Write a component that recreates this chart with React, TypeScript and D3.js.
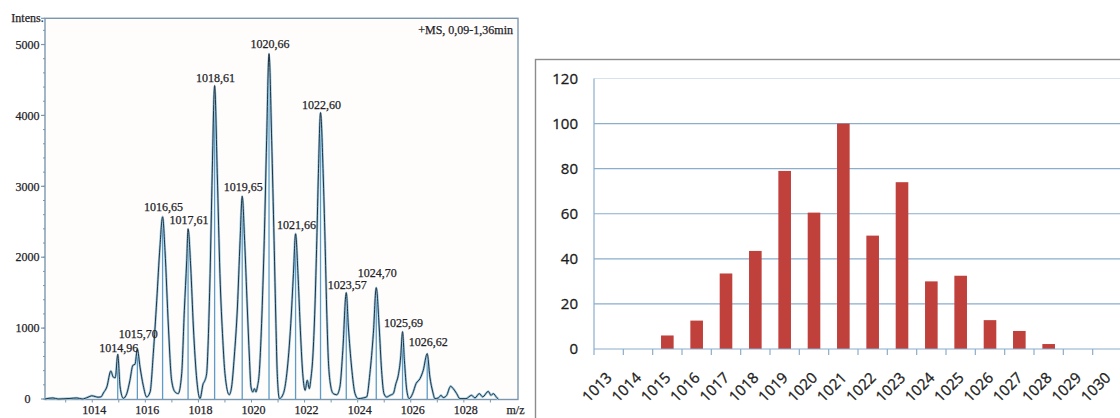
import React from 'react';
import * as d3 from 'd3';

// ---- Mass spectrum (left panel) ----
// Profile trace vertices: m/z and intensity
const profileMz = [
  1012.22, 1012.52, 1012.71, 1013.16, 1013.42, 1013.62, 1013.84, 1013.98, 1014.11, 1014.22,
  1014.33, 1014.42, 1014.55, 1014.70, 1014.79, 1014.87, 1014.96, 1015.05, 1015.17, 1015.30,
  1015.42, 1015.53, 1015.61, 1015.70, 1015.80, 1015.92, 1016.05, 1016.18, 1016.30, 1016.43,
  1016.55, 1016.65, 1016.74, 1016.87, 1016.99, 1017.12, 1017.24, 1017.37, 1017.47, 1017.56,
  1017.61, 1017.71, 1017.81, 1017.94, 1018.06, 1018.18, 1018.23, 1018.31, 1018.37, 1018.44,
  1018.52, 1018.61, 1018.71, 1018.81, 1018.92, 1019.00, 1019.16, 1019.25, 1019.35, 1019.47,
  1019.57, 1019.65, 1019.74, 1019.84, 1019.92, 1019.98, 1020.05, 1020.11, 1020.17, 1020.22,
  1020.29, 1020.38, 1020.48, 1020.57, 1020.66, 1020.76, 1020.85, 1020.92, 1020.97, 1021.05,
  1021.20, 1021.33, 1021.48, 1021.58, 1021.66, 1021.75, 1021.83, 1021.93, 1022.02, 1022.10,
  1022.18, 1022.23, 1022.31, 1022.39, 1022.46, 1022.52, 1022.60, 1022.70, 1022.77, 1022.83,
  1022.89, 1022.99, 1023.08, 1023.21, 1023.33, 1023.44, 1023.57, 1023.65, 1023.77, 1023.90,
  1024.02, 1024.21, 1024.34, 1024.46, 1024.59, 1024.70, 1024.81, 1024.90, 1024.99, 1025.09,
  1025.22, 1025.34, 1025.44, 1025.53, 1025.62, 1025.69, 1025.76, 1025.85, 1025.94, 1026.07,
  1026.20, 1026.35, 1026.47, 1026.62, 1026.72, 1026.83, 1026.91, 1027.04, 1027.14, 1027.22,
  1027.35, 1027.50, 1027.60, 1027.73, 1027.85, 1028.08, 1028.29, 1028.42, 1028.58, 1028.71,
  1028.92, 1029.02, 1029.11, 1029.24, 1029.30,
];
const profileIntensity = [
  0, 15, 0, 8, 15, 0, 25, 45, 35, 25,
  30, 85, 170, 395, 310, 300, 630, 170, 10, 75,
  264, 475, 490, 700, 450, 193, 28, 99, 640, 1392,
  2144, 2570, 2097, 1015, 264, 99, 76, 358, 1251, 1956,
  2400, 1862, 1015, 264, 5, 217, 250, 358, 828, 1769,
  3179, 4420, 3179, 1769, 828, 358, 60, 170, 592, 1298,
  2238, 2860, 2238, 1298, 592, 170, 99, 146, 99, 170,
  358, 1063, 2238, 3649, 4870, 3649, 2238, 1063, 358, 5,
  76, 358, 1063, 1769, 2330, 1769, 1063, 358, 123, 264,
  146, 264, 592, 1298, 2238, 3179, 4040, 3179, 2238, 1298,
  592, 170, 76, 60, 170, 687, 1500, 1015, 451, 76,
  5, 15, 30, 358, 922, 1570, 1015, 405, 76, 28,
  52, 76, 217, 334, 592, 950, 546, 123, 5, 76,
  217, 288, 405, 640, 310, 99, 5, 15, 52, 20,
  50, 179, 146, 76, 5, 5, 52, 15, 76, 30,
  108, 52, 76, 20, 0,
];

// Annotated peaks
const peakMz = [
  1014.96, 1015.70, 1016.65, 1017.61, 1018.61, 1019.65, 1020.66,
  1021.66, 1022.60, 1023.57, 1024.70, 1025.69, 1026.62,
];
const peakIntensity = [630, 700, 2570, 2400, 4420, 2860, 4870, 2330, 4040, 1500, 1570, 950, 640];
// Vertical gap (px) between each peak apex and its label baseline
const peakLabelLift = [2, 11, 6, 5, 4, 5, 6, 5, 4, 4, 11, 5, 8];

const spectrumYTicks = [0, 1000, 2000, 3000, 4000, 5000];
const spectrumXTicks = [1014, 1016, 1018, 1020, 1022, 1024, 1026, 1028];
const spectrumTitle = '+MS, 0,09-1,36min';

// ---- Isotope distribution (right panel) ----
const isotopeMass = [
  '1013', '1014', '1015', '1016', '1017', '1018', '1019', '1020', '1021',
  '1022', '1023', '1024', '1025', '1026', '1027', '1028', '1029', '1030',
];
const isotopeAbundance = [0, 0, 6, 12.6, 33.5, 43.5, 79, 60.5, 100, 50.3, 74, 30, 32.5, 12.8, 8, 2.2, 0, 0];
const abundanceTicks = [0, 20, 40, 60, 80, 100, 120];

const commaDecimal = (v: number, f: string) => d3.format(f)(v).replace('.', ',');

function Spectrum() {
  const left = 45;
  const right = 518;
  const top = 18.3;
  const bottom = 399.5;
  const x = d3.scaleLinear().domain([1012.22, 1030.04]).range([left, right]);
  const y = d3.scaleLinear().domain([0, 5370]).range([399, top]);

  const pts = profileMz.map((m, i) => [m, profileIntensity[i]] as [number, number]);
  const line = d3
    .line<[number, number]>()
    .x((d) => x(d[0]))
    .y((d) => y(d[1]))
    .curve(d3.curveMonotoneX);
  const path = line(pts) || '';

  const minorY = d3.range(0, 5370, 200);
  const minorX = d3.range(1013, 1030, 1);
  const serif = "'Liberation Serif', 'Times New Roman', serif";
  const axisColor = '#7b97ae';
  const textColor = '#1f2328';

  return (
    <g fontFamily={serif} fill={textColor}>
      {/* frame */}
      <rect
        x={left}
        y={top}
        width={right - left}
        height={bottom - top}
        fill="#fefdfc"
        stroke={axisColor}
        strokeWidth={1.4}
      />
      {/* y ticks */}
      {minorY.map((v) => (
        <line key={'my' + v} x1={left - 2} x2={left} y1={y(v)} y2={y(v)} stroke={axisColor} strokeWidth={1} />
      ))}
      <g stroke={textColor} strokeWidth={0.25}>
        {spectrumYTicks.map((v) => (
          <g key={'y' + v}>
            <line x1={left - 4} x2={left} y1={y(v)} y2={y(v)} stroke={axisColor} strokeWidth={1.2} />
            <text x={27.5} y={y(v)} dy="0.35em" textAnchor="middle" fontSize={12}>
              {v}
            </text>
          </g>
        ))}
        <text x={27.5} y={22} textAnchor="middle" fontSize={12}>
          Intens.
        </text>
        {spectrumXTicks.map((v) => (
          <text key={'x' + v} x={x(v) + 2} y={414} textAnchor="middle" fontSize={12}>
            {v}
          </text>
        ))}
        <text x={515.5} y={414} textAnchor="middle" fontSize={12}>
          m/z
        </text>
        <text x={513} y={34} textAnchor="end" fontSize={12}>
          {spectrumTitle}
        </text>
      </g>
      <line x1={left - 4} x2={left} y1={top} y2={top} stroke={axisColor} strokeWidth={1.2} />
      {/* x ticks */}
      {minorX.map((v) => (
        <line key={'mx' + v} x1={x(v)} x2={x(v)} y1={bottom} y2={bottom + 3} stroke={axisColor} strokeWidth={1} />
      ))}

      {/* centroid sticks */}
      {peakMz.map((m, i) => (
        <line
          key={'s' + m}
          x1={x(m)}
          x2={x(m)}
          y1={y(0)}
          y2={y(peakIntensity[i])}
          stroke="#5d9cc6"
          strokeWidth={1.3}
        />
      ))}
      {/* profile trace */}
      <path d={path} fill="none" stroke="#9ccbe3" strokeWidth={2.4} strokeLinejoin="round" />
      <path d={path} fill="none" stroke="#25313e" strokeWidth={1} strokeLinejoin="round" />

      {/* peak labels */}
      <g stroke={textColor} strokeWidth={0.25}>
        {peakMz.map((m, i) => (
          <text
            key={'l' + m}
            x={x(m) + 1}
            y={y(peakIntensity[i]) - peakLabelLift[i]}
            textAnchor="middle"
            fontSize={12}
          >
            {commaDecimal(m, '.2f')}
          </text>
        ))}
      </g>
    </g>
  );
}

function IsotopeBars() {
  const plotLeft = 594;
  const plotRight = 1122;
  const x = d3
    .scaleBand<string>()
    .domain(isotopeMass)
    .range([plotLeft, plotRight])
    .paddingInner(0.57)
    .paddingOuter(0.285);
  const y = d3.scaleLinear().domain([0, 120]).range([349, 78.5]);
  const step = x.step();
  const gridColor = '#8aaecb';
  const sans = "'Open Sans', 'Liberation Sans', sans-serif";
  const textColor = '#1c1c1c';

  return (
    <g fontFamily={sans} fill={textColor}>
      {/* chart area border */}
      <rect x={535.5} y={59.5} width={700} height={420} fill="#ffffff" stroke="#8c8c8c" strokeWidth={1.4} />
      {/* gridlines */}
      {abundanceTicks
        .filter((t) => t > 0)
        .map((t) => (
          <line
            key={'g' + t}
            x1={plotLeft}
            x2={plotRight}
            y1={y(t)}
            y2={y(t)}
            stroke={gridColor}
            strokeOpacity={t === 120 ? 0.35 : 1}
            strokeWidth={1.2}
          />
        ))}
      {/* bars */}
      {isotopeMass.map((k, i) => (
        <rect
          key={'b' + k}
          x={x(k)}
          y={y(isotopeAbundance[i])}
          width={x.bandwidth()}
          height={y(0) - y(isotopeAbundance[i])}
          fill="#c0403b"
        />
      ))}
      {/* axes */}
      <line x1={plotLeft} x2={plotLeft} y1={y(120)} y2={y(0)} stroke={gridColor} strokeWidth={1.2} />
      <line x1={plotLeft} x2={plotRight} y1={y(0)} y2={y(0)} stroke={gridColor} strokeWidth={1.2} />
      {d3.range(isotopeMass.length + 1).map((i) => (
        <line
          key={'t' + i}
          x1={plotLeft + i * step}
          x2={plotLeft + i * step}
          y1={y(0)}
          y2={y(0) + 6}
          stroke={gridColor}
          strokeWidth={1.2}
        />
      ))}
      <g stroke={textColor} strokeWidth={0.3}>
        {abundanceTicks.map((t) => (
          <text key={'yl' + t} x={578} y={y(t)} dy="0.35em" textAnchor="end" fontSize={15}>
            {t}
          </text>
        ))}
        {isotopeMass.map((k) => {
          const cx = (x(k) as number) + x.bandwidth() / 2;
          return (
            <text
              key={'xl' + k}
              transform={`translate(${cx + 0.5},${375}) rotate(-45)`}
              dy="0.35em"
              textAnchor="end"
              fontSize={15}
            >
              {k}
            </text>
          );
        })}
      </g>
    </g>
  );
}

export default function App() {
  return (
    <svg
      width={1120}
      height={418}
      viewBox="0 0 1120 418"
      style={{ position: 'absolute', left: 0, top: 0, display: 'block', background: '#ffffff' }}
    >
      <Spectrum />
      <IsotopeBars />
    </svg>
  );
}
